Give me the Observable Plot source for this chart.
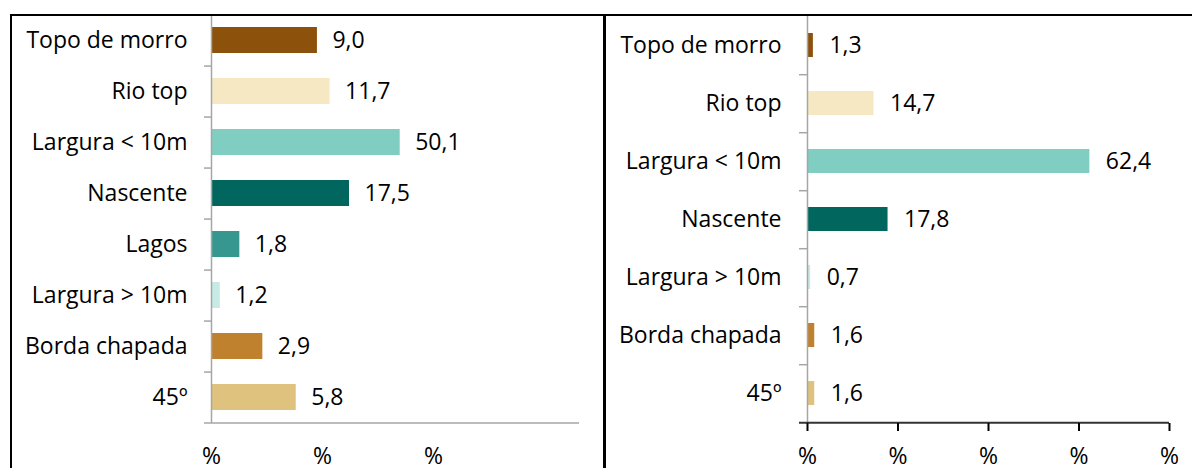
<!DOCTYPE html>
<html><head><meta charset="utf-8">
<script src="https://cdn.jsdelivr.net/npm/d3@7"></script>
<script src="https://cdn.jsdelivr.net/npm/@observablehq/plot@0.6"></script>
<style>
body{margin:0;background:#fff;}
#wrap{position:relative;width:1192px;height:468px;overflow:hidden;font-family:"Open Sans",sans-serif;}
#wrap svg{position:absolute;top:0;}
.ln{position:absolute;background:#000;}
</style></head><body><div id="wrap"></div>
<script>
const leftCategories = ["Topo de morro","Rio top","Largura < 10m","Nascente","Lagos","Largura > 10m","Borda chapada","45º"];
const leftValues = [9.0, 11.7, 50.1, 17.5, 1.8, 1.2, 2.9, 5.8];
const rightCategories = ["Topo de morro","Rio top","Largura < 10m","Nascente","Largura > 10m","Borda chapada","45º"];
const rightValues = [1.3, 14.7, 62.4, 17.8, 0.7, 1.6, 1.6];
const colorCategories = ["Topo de morro","Rio top","Largura < 10m","Nascente","Lagos","Largura > 10m","Borda chapada","45º"];
const colorPalette = ["#8c510a","#f6e8c3","#80cdc1","#01665e","#35978f","#c7eae5","#bf812d","#dfc27d"];
const leftTicks = [1, 10, 100];
const leftDomain = [1, 2066];
const rightTicks = [0, 20, 40, 60, 80];
const rightDomain = [0, 80];
const tickLabel = "%";

const fmt = v => v.toFixed(1).replace(".", ",");
const H = 468, mTop = 14, mBottom = 45;
const gray = "#a6a6a6";
const fontStyle = {fontFamily: '"Open Sans", sans-serif', fontSize: "23px", color: "#000", background: "transparent", overflow: "visible"};
const wrap = document.getElementById("wrap");

const leftData = leftCategories.map((c, i) => ({c, v: leftValues[i]}));
const stepL = (H - mTop - mBottom) / leftCategories.length;
const left = Plot.plot({
  width: 600, height: H, marginTop: mTop, marginBottom: mBottom, marginLeft: 211, marginRight: 21,
  style: fontStyle,
  x: {type: "log", domain: leftDomain},
  y: {type: "band", domain: leftCategories, paddingInner: 0.49, paddingOuter: 0.245},
  color: {domain: colorCategories, range: colorPalette},
  marks: [
    Plot.barX(leftData, {x1: leftDomain[0], x2: "v", y: "c", fill: "c"}),
    Plot.text(leftData, {x: "v", y: "c", text: d => fmt(d.v), textAnchor: "start", dx: 15, fill: "#000"}),
    Plot.ruleX([leftDomain[0]], {stroke: gray, strokeWidth: 1.5}),
    Plot.ruleY(leftCategories.slice(0, -1), {y: d => d, x1: 0.865, x2: leftDomain[0], dy: stepL / 2, stroke: gray, strokeWidth: 1.5}),
    Plot.ruleY(leftCategories.slice(-1), {y: d => d, x1: 0.865, x2: leftDomain[1], dy: stepL / 2, stroke: gray, strokeWidth: 1.5}),
    Plot.axisY({tickSize: 0, tickPadding: 24, label: null}),
    Plot.axisX({ticks: leftTicks, tickFormat: () => tickLabel, tickSize: 0, tickPadding: 24, label: null})
  ]
});
left.style.left = "0px";
wrap.appendChild(left);

const rightData = rightCategories.map((c, i) => ({c, v: rightValues[i]}));
const stepR = (H - mTop - mBottom) / rightCategories.length;
const right = Plot.plot({
  width: 592, height: H, marginTop: mTop, marginBottom: mBottom, marginLeft: 207, marginRight: 23,
  style: fontStyle,
  x: {domain: rightDomain},
  y: {type: "band", domain: rightCategories, paddingInner: 0.59, paddingOuter: 0.295},
  color: {domain: colorCategories, range: colorPalette},
  marks: [
    Plot.barX(rightData, {x: "v", y: "c", fill: "c"}),
    Plot.text(rightData, {x: "v", y: "c", text: d => fmt(d.v), textAnchor: "start", dx: 16, fill: "#000"}),
    Plot.ruleX([rightDomain[0]], {stroke: gray, strokeWidth: 1.5}),
    Plot.ruleY(rightCategories.slice(0, -1), {y: d => d, x1: -1.77, x2: rightDomain[0], dy: stepR / 2, stroke: gray, strokeWidth: 1.5}),
    Plot.ruleY(rightCategories.slice(-1), {y: d => d, x1: -1.77, x2: rightDomain[1], dy: stepR / 2, stroke: "#333", strokeWidth: 2}),
    Plot.axisY({tickSize: 0, tickPadding: 26, label: null}),
    Plot.axisX({ticks: rightTicks, tickFormat: () => tickLabel, tickSize: 8, tickPadding: 16, stroke: "#000", strokeWidth: 2, label: null})
  ]
});
right.style.left = "600px";
wrap.appendChild(right);

function line(l, t, w, h) {
  const d = document.createElement("div");
  d.className = "ln";
  Object.assign(d.style, {left: l + "px", top: t + "px", width: w + "px", height: h + "px"});
  wrap.appendChild(d);
}
line(10, 14, 1182, 2);
line(10, 14, 2, 454);
line(603, 14, 3, 454);
</script>
</body></html>
